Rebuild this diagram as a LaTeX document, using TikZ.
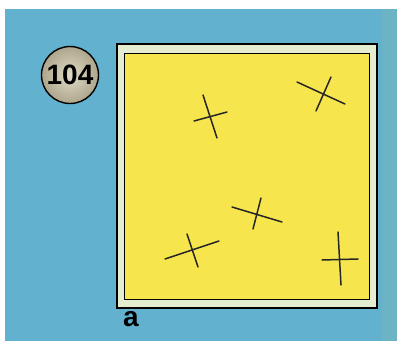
\documentclass[tikz,border=0pt]{standalone}
\usepackage{fontspec}
\setsansfont{Liberation Sans}
\definecolor{skyblue}{HTML}{62B2CF}
\definecolor{edgeblue}{HTML}{6CB3C6}
\definecolor{paper}{HTML}{F6E54C}
\definecolor{rim}{HTML}{E4EDCF}
\definecolor{badgein}{HTML}{E2DCC6}
\definecolor{badgeout}{HTML}{ADA58C}
\begin{document}
\begin{tikzpicture}[x=1pt, y=-1pt, cross/.style={line width=1.5pt, line cap=round, black!85}]
        % background and margins
        \useasboundingbox (0,0) rectangle (397,341);
        \fill[white] (0,0) rectangle (397,341);
        \fill[skyblue] (5,9) rectangle (397,341);
        \fill[edgeblue] (382,9) rectangle (397,341);
        % frame
        \draw[line width=1.8pt, fill=rim] (117,44) rectangle (377,308);
        \draw[line width=1pt, fill=paper] (124,53) rectangle (369,299);
        % badge
        \node[circle, draw, line width=1.4pt, inner color=badgein, outer color=badgeout, minimum size=57pt, inner sep=0pt, font=\sffamily\bfseries\fontsize{28}{28}\selectfont] (num) at (70,75) {104};
        % label
        \node[font=\sffamily\bfseries\fontsize{28}{28}\selectfont] (lab) at (131,319) {a};
        % crosses
        \draw[cross] (203,95) -- (217,138);
        \draw[cross] (194,121) -- (227,112);
        \draw[cross] (297,82) -- (345,104);
        \draw[cross] (331,77) -- (316,111);
        \draw[cross] (232,207) -- (282,222);
        \draw[cross] (261,198) -- (253,229);
        \draw[cross] (165,259) -- (219,241);
        \draw[cross] (187,234) -- (198,267);
        \draw[cross] (338,232) -- (341,285);
        \draw[cross] (322,260) -- (358,259);
    \end{tikzpicture}
\end{document}
